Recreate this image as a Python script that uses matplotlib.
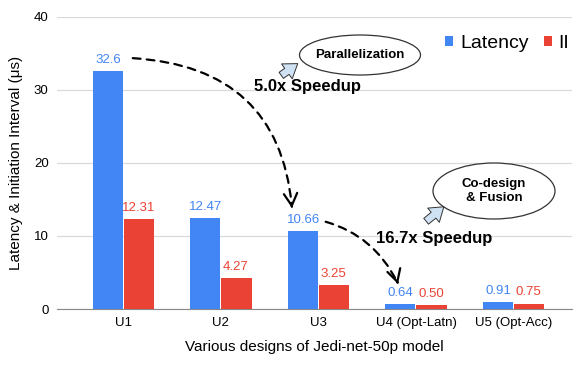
import matplotlib.pyplot as plt
import numpy as np
from matplotlib.patches import Ellipse, FancyArrowPatch

plt.rcParams["font.family"] = ["Liberation Sans", "DejaVu Sans"]

designs = ["U1", "U2", "U3", "U4 (Opt-Latn)", "U5 (Opt-Acc)"]
latency = [32.6, 12.47, 10.66, 0.64, 0.91]
interval = [12.31, 4.27, 3.25, 0.50, 0.75]
latency_labels = ["32.6", "12.47", "10.66", "0.64", "0.91"]
interval_labels = ["12.31", "4.27", "3.25", "0.50", "0.75"]

BLUE = "#4285F4"
RED = "#EA4335"
W, H = 581, 365


def px(x, y):
    # pixel position (from top-left) -> figure fraction
    return (x / W, 1 - y / H)


fig = plt.figure(figsize=(W / 100, H / 100), dpi=100)
ax = fig.add_axes([57 / W, 1 - 309 / H, (572 - 57) / W, (309 - 17) / H])

x = np.arange(len(designs))
bw = 0.31
ax.bar(x - bw / 2 - 0.005, latency, bw, color=BLUE, label="Latency", zorder=3)
ax.bar(x + bw / 2 + 0.005, interval, bw, color=RED, label="II", zorder=3)

for xi, v, t in zip(x, latency, latency_labels):
    ax.text(xi - bw / 2, v + 0.7, t, ha="center", va="bottom", color=BLUE, fontsize=9.5)
for xi, v, t in zip(x, interval, interval_labels):
    ax.text(xi + bw / 2, v + 0.7, t, ha="center", va="bottom", color=RED, fontsize=9.5)

ax.set_xlim(-0.68, 4.6)
ax.set_ylim(0, 40)
ax.set_yticks([0, 10, 20, 30, 40])
ax.set_xticks(x)
ax.set_xticklabels(designs, fontsize=9.5)
ax.tick_params(axis="y", labelsize=9.5, length=0, pad=6)
ax.tick_params(axis="x", length=0, pad=6)
ax.grid(axis="y", color="#dadada", lw=0.9, zorder=0)
for s in ["top", "right", "left"]:
    ax.spines[s].set_visible(False)
ax.spines["bottom"].set_color("#888888")
ax.set_xlabel("Various designs of Jedi-net-50p model", fontsize=11, labelpad=8)
ax.set_ylabel("Latency & Initiation Interval (μs)", fontsize=11, labelpad=8)

ax.legend(loc="upper right", bbox_to_anchor=(1.01, 0.965), ncol=2, frameon=False,
          fontsize=14, handlelength=0.4, handleheight=0.4, handletextpad=0.35,
          columnspacing=0.8, borderaxespad=0)

# dashed speedup arrows: dashed shaft + solid open head
for start, end, conn in [((130, 58), (292, 208), "angle3,angleA=-3,angleB=-85"),
                         ((323, 221), (398, 284), "angle3,angleA=-15,angleB=-65")]:
    shaft = FancyArrowPatch(px(*start), px(*end), transform=fig.transFigure,
                            connectionstyle=conn, arrowstyle="-",
                            lw=1.6, ls=(0, (3.5, 2.8)), color="black", zorder=5)
    fig.patches.append(shaft)
    head = FancyArrowPatch(px(end[0] - (0.4 if end[0] < 300 else 1.2), end[1] - 4), px(*end),
                           transform=fig.transFigure, arrowstyle="->,head_length=0.55,head_width=0.3",
                           mutation_scale=16, lw=1.6, color="black", zorder=5)
    fig.patches.append(head)

fig.text(*px(308, 87), "5.0x Speedup", ha="center", va="center", fontsize=12, fontweight="bold")
fig.text(*px(434, 238), "16.7x Speedup", ha="center", va="center", fontsize=12, fontweight="bold")

# ellipse call-outs
for (cx, cy), w, h, label in [((360, 55), 121, 40, "Parallelization"),
                              ((494, 191), 122, 56, "Co-design\n& Fusion")]:
    e = Ellipse(px(cx, cy), w / W, h / H, transform=fig.transFigure,
                fc="white", ec="#333333", lw=0.9, zorder=6)
    fig.patches.append(e)
    fig.text(*px(cx, cy), label, ha="center", va="center", fontsize=9.5,
             fontweight="bold", zorder=7, linespacing=1.3)

# small block arrows pointing at the call-outs
for start, end in [((279, 77), (300, 62)), ((424, 223), (446, 205))]:
    arr = FancyArrowPatch(px(*start), px(*end), transform=fig.transFigure,
                          arrowstyle="simple,head_width=1.1,head_length=0.8,tail_width=0.45",
                          mutation_scale=12, fc="#cfe2f3", ec="#333333", lw=0.7, zorder=6)
    fig.patches.append(arr)

fig.savefig("out.png", dpi=100)
